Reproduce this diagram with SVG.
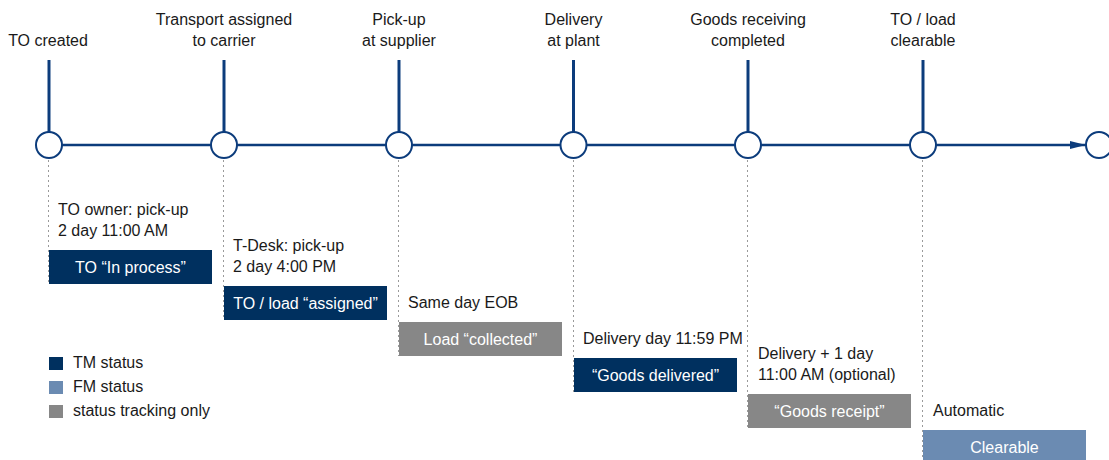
<svg xmlns="http://www.w3.org/2000/svg" width="1109" height="460" viewBox="0 0 1109 460">
  <style>
    text { font-family: "Liberation Sans", Arial, sans-serif; font-size: 16px; fill: #1a1a1a; }
    .mid { text-anchor: middle; }
    .boxtxt { fill: #ffffff; text-anchor: middle; }
    .stem { stroke: #0c3c7c; stroke-width: 3; }
    .axis { stroke: #0c3c7c; stroke-width: 2.5; fill: none; }
    .node { fill: #ffffff; stroke: #0c3c7c; stroke-width: 2; }
    .guide { stroke: #9a9a9a; stroke-width: 1; stroke-dasharray: 2 3; }
    .tm { fill: #00305f; }
    .fm { fill: #6b8bb2; }
    .track { fill: #878787; }
  </style>
  <defs>
    <marker id="arrow" viewBox="0 0 16 8" refX="16" refY="4" markerWidth="16" markerHeight="8" markerUnits="userSpaceOnUse" orient="auto">
      <path d="M0,0 L16,4 L0,8 Z" fill="#0c3c7c"/>
    </marker>
  </defs>

  <!-- timeline axis, stems and dotted guides -->
  <g id="connectors">
    <line class="axis" x1="62" y1="145" x2="1086" y2="145" marker-end="url(#arrow)"/>
    <line class="stem" x1="49" y1="60" x2="49" y2="132"/>
    <line class="stem" x1="224" y1="60" x2="224" y2="132"/>
    <line class="stem" x1="399" y1="60" x2="399" y2="132"/>
    <line class="stem" x1="573.5" y1="60" x2="573.5" y2="132"/>
    <line class="stem" x1="748" y1="60" x2="748" y2="132"/>
    <line class="stem" x1="923" y1="60" x2="923" y2="132"/>
    <line class="guide" x1="48.5" y1="160" x2="48.5" y2="284"/>
    <line class="guide" x1="223.5" y1="160" x2="223.5" y2="320"/>
    <line class="guide" x1="398.5" y1="160" x2="398.5" y2="356"/>
    <line class="guide" x1="573.5" y1="160" x2="573.5" y2="392"/>
    <line class="guide" x1="747.5" y1="160" x2="747.5" y2="428"/>
    <line class="guide" x1="922.5" y1="160" x2="922.5" y2="460"/>
  </g>

  <!-- milestones -->
  <g id="m1">
    <text class="mid" x="48" y="46">TO created</text>
    <circle class="node" cx="49" cy="145" r="13"/>
    <text x="58" y="215">TO owner: pick-up</text>
    <text x="58" y="236">2 day 11:00 AM</text>
    <rect class="tm" x="49" y="250" width="163" height="34"/>
    <text class="boxtxt" x="130.5" y="273">TO “In process”</text>
  </g>
  <g id="m2">
    <text class="mid" x="224" y="25">Transport assigned</text>
    <text class="mid" x="224" y="46">to carrier</text>
    <circle class="node" cx="224" cy="145" r="13"/>
    <text x="233" y="251">T-Desk: pick-up</text>
    <text x="233" y="272">2 day 4:00 PM</text>
    <rect class="tm" x="224" y="286" width="163" height="34"/>
    <text class="boxtxt" x="305.5" y="309">TO / load “assigned”</text>
  </g>
  <g id="m3">
    <text class="mid" x="399" y="25">Pick-up</text>
    <text class="mid" x="399" y="46">at supplier</text>
    <circle class="node" cx="399" cy="145" r="13"/>
    <text x="408" y="308">Same day EOB</text>
    <rect class="track" x="399" y="322" width="163" height="34"/>
    <text class="boxtxt" x="480.5" y="345">Load “collected”</text>
  </g>
  <g id="m4">
    <text class="mid" x="573.5" y="25">Delivery</text>
    <text class="mid" x="573.5" y="46">at plant</text>
    <circle class="node" cx="573.5" cy="145" r="13"/>
    <text x="583" y="344">Delivery day 11:59 PM</text>
    <rect class="tm" x="574" y="358" width="163" height="34"/>
    <text class="boxtxt" x="655.5" y="381">“Goods delivered”</text>
  </g>
  <g id="m5">
    <text class="mid" x="748" y="25">Goods receiving</text>
    <text class="mid" x="748" y="46">completed</text>
    <circle class="node" cx="748" cy="145" r="13"/>
    <text x="758" y="359">Delivery + 1 day</text>
    <text x="758" y="380">11:00 AM (optional)</text>
    <rect class="track" x="748" y="394" width="163" height="34"/>
    <text class="boxtxt" x="829.5" y="417">“Goods receipt”</text>
  </g>
  <g id="m6">
    <text class="mid" x="923" y="25">TO / load</text>
    <text class="mid" x="923" y="46">clearable</text>
    <circle class="node" cx="923" cy="145" r="13"/>
    <text x="933" y="416">Automatic</text>
    <rect class="fm" x="923" y="430" width="163" height="34"/>
    <text class="boxtxt" x="1004.5" y="453">Clearable</text>
  </g>
  <g id="m7">
    <circle class="node" cx="1099" cy="145" r="13"/>
  </g>

  <!-- legend -->
  <g id="legend">
    <rect class="tm" x="49" y="357" width="14" height="13"/>
    <text x="73" y="368">TM status</text>
    <rect class="fm" x="49" y="381" width="14" height="13"/>
    <text x="73" y="392">FM status</text>
    <rect class="track" x="49" y="405" width="14" height="13"/>
    <text x="73" y="416">status tracking only</text>
  </g>
</svg>
